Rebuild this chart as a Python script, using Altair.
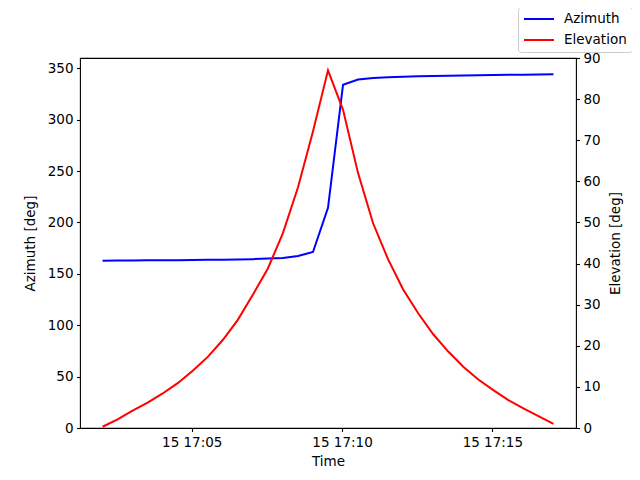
import altair as alt
import pandas as pd

times = [
    "2024-01-15T17:02:02", "2024-01-15T17:02:32", "2024-01-15T17:03:02", "2024-01-15T17:03:32",
    "2024-01-15T17:04:02", "2024-01-15T17:04:32", "2024-01-15T17:05:02", "2024-01-15T17:05:32",
    "2024-01-15T17:06:02", "2024-01-15T17:06:32", "2024-01-15T17:07:02", "2024-01-15T17:07:32",
    "2024-01-15T17:08:02", "2024-01-15T17:08:32", "2024-01-15T17:09:02", "2024-01-15T17:09:32",
    "2024-01-15T17:10:02", "2024-01-15T17:10:32", "2024-01-15T17:11:02", "2024-01-15T17:11:32",
    "2024-01-15T17:12:02", "2024-01-15T17:12:32", "2024-01-15T17:13:02", "2024-01-15T17:13:32",
    "2024-01-15T17:14:02", "2024-01-15T17:14:32", "2024-01-15T17:15:02", "2024-01-15T17:15:32",
    "2024-01-15T17:16:02", "2024-01-15T17:16:32", "2024-01-15T17:17:02",
]

azimuth = [
    162.8, 162.9, 163.0, 163.1, 163.2, 163.3, 163.5, 163.6, 163.8, 164.0,
    164.3, 164.8, 165.5, 167.3, 171.2, 214.2, 334.0, 339.0, 340.6, 341.3,
    341.8, 342.2, 342.5, 342.8, 343.0, 343.2, 343.4, 343.6, 343.8, 343.9, 344.1,
]

elevation = [
    0.3, 2.1, 4.2, 6.2, 8.4, 10.9, 13.9, 17.3, 21.4, 26.3,
    32.4, 38.8, 47.4, 58.5, 72.1, 87.0, 77.4, 62.0, 49.8, 41.0,
    33.7, 27.9, 22.8, 18.6, 14.9, 11.8, 9.2, 6.8, 4.8, 2.9, 1.0,
]

x_ticks = ["17:05", "17:10", "17:15"]

df_az = pd.DataFrame({"time": times, "value": azimuth, "series": "Azimuth"})
df_el = pd.DataFrame({"time": times, "value": elevation, "series": "Elevation"})

FONT = "DejaVu Sans"
FS = 13.5

tick_values = [
    alt.DateTime(year=2024, month=1, date=15, hours=int(t[:2]), minutes=int(t[3:]))
    for t in x_ticks
]

x_enc = alt.X(
    "time:T",
    scale=alt.Scale(domain=[
        alt.DateTime(year=2024, month=1, date=15, hours=17, minutes=1, seconds=17),
        alt.DateTime(year=2024, month=1, date=15, hours=17, minutes=17, seconds=47),
    ]),
    axis=alt.Axis(values=tick_values, format="%d %H:%M", title="Time", titlePadding=6),
)

color_enc = alt.Color(
    "series:N",
    scale=alt.Scale(domain=["Azimuth", "Elevation"], range=["blue", "red"]),
    legend=alt.Legend(
        title=None, orient="none", legendX=438, legendY=-51,
        symbolType="stroke", symbolSize=900, symbolStrokeWidth=2,
        labelFont=FONT, labelFontSize=FS, labelColor="black",
        fillColor="white", strokeColor="#cccccc", cornerRadius=3,
        padding=5, rowPadding=7, labelOffset=9, clipHeight=14,
    ),
)

az = alt.Chart(df_az).mark_line(strokeWidth=2).encode(
    x=x_enc,
    y=alt.Y(
        "value:Q",
        scale=alt.Scale(domain=[0, 360], nice=False),
        axis=alt.Axis(
            orient="left", values=list(range(0, 351, 50)), title="Azimuth [deg]",
            titleX=-50, titleY=185, titleAngle=270, titleAlign="center", titleBaseline="middle",
        ),
    ),
    color=color_enc,
)

el = alt.Chart(df_el).mark_line(strokeWidth=2).encode(
    x=x_enc,
    y=alt.Y(
        "value:Q",
        scale=alt.Scale(domain=[0, 90], nice=False),
        axis=alt.Axis(
            orient="right", values=list(range(0, 91, 10)), title="Elevation [deg]",
            titleX=39, titleY=185, titleAngle=270, titleAlign="center", titleBaseline="middle",
        ),
    ),
    color=color_enc,
)

chart = alt.layer(az, el).resolve_scale(y="independent").properties(
    width=496,
    height=370,
    autosize=alt.AutoSizeParams(type="none"),
    padding={"left": 72, "top": 50, "right": 56, "bottom": 44},
    background="white",
).configure_view(
    stroke="black", strokeWidth=1.1
).configure_axis(
    domain=False, grid=False, tickColor="black", tickSize=3.5, tickWidth=1.1,
    labelColor="black", titleColor="black", titleFontWeight="normal",
    labelFont=FONT, titleFont=FONT, labelFontSize=FS, titleFontSize=FS,
    labelPadding=3.5,
)

chart.save("out.html", embed_options={"renderer": "svg", "actions": False})
